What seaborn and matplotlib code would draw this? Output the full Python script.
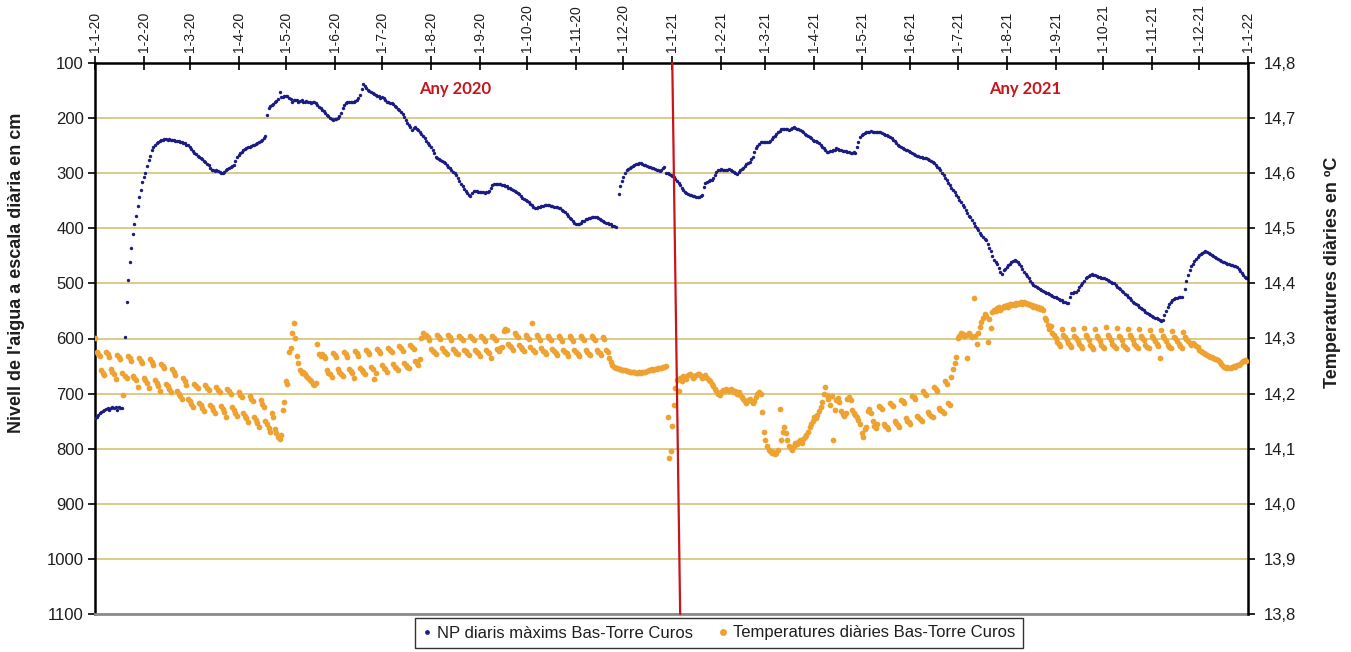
import numpy as np
import pandas as pd
import matplotlib
matplotlib.use("Agg")
import matplotlib.pyplot as plt
from matplotlib.lines import Line2D
import seaborn as sns

sns.set_theme(style="white")
plt.rcParams["font.family"] = ["Liberation Sans", "DejaVu Sans"]

# Daily maximum piezometric level (cm below reference), one value per day
level_2020 = [
    # Jan
    745, 742, 738, 735, 733, 731, 729, 728, 727, 730, 726, 724, 727, 725, 729, 724, 727, 726, None,
    597, 534, 494, 461, 435, 411, 392, 377, 360, 343, 330, 316,
    # Feb
    306, 299, 287, 276, 269, 257, 252, 249, 246, 243, 241, 240, 239, 238, 238, 239, 238, 239, 240, 240,
    241, 241, 242, 243, 244, 245, 246, 248, 249,
    # Mar
    253, 256, 260, 263, 265, 268, 271, 273, 275, 278, 280, 283, 286, 290, 294, 295, 296, 295, 296, 298,
    299, 300, 297, 294, 293, 291, 289, 287, 285, 278, 270,
    # Apr
    267, 264, 261, 258, 256, 254, 253, 252, 251, 249, 248, 247, 246, 244, 242, 240, 236, 232, 194, 182,
    178, 176, 174, 171, 169, 166, 153, 162, 161, 160,
    # May
    159, 160, 163, 166, 170, 168, 167, 168, 170, 169, 168, 170, 171, 169, 170, 170, 172, 171, 170, 172,
    176, 179, 182, 185, 188, 191, 194, 197, 200, 201, 203,
    # Jun
    202, 202, 200, 197, 190, 182, 176, 172, 170, 171, 170, 171, 170, 169, 168, 163, 158, 148, 138, 142,
    146, 149, 151, 153, 155, 157, 158, 159, 160, 163,
    # Jul
    161, 164, 167, 170, 171, 172, 173, 175, 178, 180, 183, 185, 189, 193, 198, 203, 208, 212, 217, 222,
    218, 216, 219, 222, 225, 229, 233, 237, 241, 245, 249,
    # Aug
    253, 258, 264, 270, 272, 274, 276, 278, 279, 282, 285, 288, 291, 294, 297, 300, 303, 308, 314, 319,
    324, 328, 332, 336, 340, 341, 336, 333, 332, 333, 334,
    # Sep
    334, 335, 335, 336, 335, 334, 333, 327, 321, 320, 319, 319, 320, 320, 321, 322, 323, 324, 326, 327,
    329, 331, 332, 334, 336, 338, 341, 345, 347, 349,
    # Oct
    351, 352, 355, 358, 362, 364, 363, 362, 361, 360, 359, 358, 358, 357, 358, 359, 360, 361, 361, 362,
    363, 364, 366, 368, 371, 374, 378, 381, 384, 387, 390,
    # Nov
    392, 393, 392, 390, 387, 386, 384, 383, 382, 381, 380, 379, 379, 380, 382, 384, 385, 387, 389, 390,
    391, 392, 393, 395, 396, 397, None, 337, 324, 315,
    # Dec
    306, 300, 294, 292, 290, 288, 287, 285, 284, 283, 282, 282, 283, 285, 286, 287, 288, 289, 290, 291,
    292, 294, 295, 296, 294, 291, 288, 299, 300, 302, 304,
]

level_2021 = [
    # Jan
    305, 306, 310, 314, 318, 321, 326, 330, 334, 336, 337, 339, 340, 341, 342, 343, 344, 343, 341, 340,
    325, 318, 316, 314, 313, 312, 308, 303, 298, 294, 294,
    # Feb
    293, 294, 294, 295, 294, 293, 294, 296, 298, 300, 301, 298, 295, 293, 290, 287, 284, 282, 279, 274,
    270, 262, 255, 251, 247, 243, 243, 243,
    # Mar
    244, 243, 243, 241, 238, 234, 232, 228, 226, 223, 220, 220, 219, 220, 220, 221, 219, 218, 217, 218,
    219, 220, 222, 224, 226, 228, 230, 232, 234, 237, 239,
    # Apr
    241, 242, 243, 246, 249, 253, 255, 258, 261, 261, 260, 259, 258, 257, 255, 256, 257, 258, 259, 259,
    260, 261, 262, 263, 263, 262, 263, 253, 243, 234,
    # May
    231, 229, 227, 226, 226, 225, 224, 225, 225, 226, 225, 226, 226, 227, 228, 230, 231, 233, 235, 237,
    239, 242, 245, 248, 251, 253, 254, 256, 257, 258, 260,
    # Jun
    262, 264, 266, 267, 268, 269, 270, 271, 272, 272, 273, 274, 276, 278, 280, 282, 285, 288, 291, 295,
    299, 303, 308, 313, 318, 322, 326, 330, 334, 339,
    # Jul
    344, 349, 353, 357, 361, 367, 373, 378, 379, 385, 391, 396, 400, 403, 408, 412, 416, 419, 421, 428,
    435, 442, 450, 458, 461, 464, 472, 480, 483, 476, 474,
    # Aug
    470, 467, 465, 462, 459, 458, 459, 461, 464, 468, 474, 479, 483, 487, 491, 495, 499, 503, 505, 507,
    509, 511, 512, 514, 515, 517, 518, 519, 521, 522, 524,
    # Sep
    525, 526, 528, 530, 531, 533, 534, 536, 536, 525, 518, 517, 516, 515, 512, 507, 503, 499, 495, 491,
    488, 486, 484, 483, 484, 485, 486, 488, 489, 490,
    # Oct
    490, 491, 492, 493, 495, 497, 499, 500, 503, 506, 509, 511, 514, 516, 519, 521, 524, 527, 530, 533,
    535, 537, 540, 542, 544, 546, 548, 551, 553, 555, 558,
    # Nov
    560, 561, 562, 563, 564, 566, 569, 566, 557, 550, 542, 537, 533, 530, 528, 527, 526, 525, 524, 524,
    None, 510, 496, 484, 476, 469, 464, 460, 456, 452,
    # Dec
    448, 446, 444, 443, 442, 443, 445, 447, 449, 451, 452, 454, 455, 457, 460, 461, 462, 463, 464, 465,
    466, 467, 468, 469, 470, 474, 478, 482, 485, 488, 491,
]

# Daily water temperature (ºC)
temp_2020 = [
    14.300, 14.276, 14.272, 14.268, 14.243, 14.238, 14.234,
    14.275, 14.271, 14.267, 14.244, 14.240, 14.236, 14.226,
    14.270, 14.266, 14.262, 14.238, 14.197, 14.232, 14.228,
    14.268, 14.265, 14.260, 14.232, 14.228, 14.224, 14.212,
    14.264, 14.260, 14.256, 14.228, 14.224, 14.220, 14.210,
    14.262, 14.257, 14.252, 14.224, 14.219, 14.214, 14.205,
    14.254, 14.250, 14.246, 14.218, 14.213, 14.208, 14.203,
    14.245, 14.240, 14.234, 14.205, 14.200, 14.195, 14.190,
    14.228, 14.222, 14.216, 14.190, 14.186, 14.181, 14.176,
    14.218, 14.214, 14.210, 14.183, 14.179, 14.174, 14.168,
    14.215, 14.210, 14.206, 14.180, 14.176, 14.171, 14.164,
    14.212, 14.207, 14.203, 14.178, 14.172, 14.166, 14.158,
    14.208, 14.204, 14.200, 14.175, 14.170, 14.165, 14.160,
    14.202, 14.198, 14.193, 14.165, 14.160, 14.155, 14.148,
    14.196, 14.191, 14.186, 14.158, 14.152, 14.146, 14.140,
    14.188, 14.182, 14.176, 14.150, 14.144, 14.138, 14.130,
    14.165, 14.158, 14.135, 14.128, 14.122, 14.118, 14.125,
    14.170, 14.185, 14.222, 14.218, 14.275, 14.283, 14.310, 14.328, 14.300, 14.268,
    14.255, 14.243, 14.238, 14.240, 14.235, 14.232, 14.228, 14.225, 14.222, 14.218,
    14.216, 14.220, 14.290, 14.272, 14.268,
    14.272, 14.268, 14.264, 14.242, 14.238, 14.235, 14.231,
    14.274, 14.270, 14.266, 14.244, 14.240, 14.236, 14.232,
    14.275, 14.271, 14.267, 14.245, 14.241, 14.237, 14.228,
    14.277, 14.273, 14.269, 14.247, 14.243, 14.239, 14.236,
    14.279, 14.275, 14.271, 14.249, 14.245, 14.226, 14.238,
    14.281, 14.277, 14.273, 14.251, 14.247, 14.244, 14.240,
    14.283, 14.279, 14.275, 14.253, 14.249, 14.246, 14.243,
    14.286, 14.282, 14.278, 14.256, 14.252, 14.249, 14.246,
    14.289, 14.285, 14.281, 14.259, 14.255, 14.252, 14.262,
    14.300, 14.310, 14.305,
    14.306, 14.302, 14.298, 14.281, 14.278, 14.275, 14.272,
    14.307, 14.303, 14.299, 14.282, 14.278, 14.275, 14.271,
    14.306, 14.302, 14.298, 14.281, 14.277, 14.274, 14.271,
    14.305, 14.301, 14.297, 14.280, 14.277, 14.274, 14.270,
    14.305, 14.301, 14.297, 14.280, 14.276, 14.273, 14.269,
    14.304, 14.300, 14.296, 14.279, 14.276, 14.273, 14.264,
    14.305, 14.301, 14.297, 14.281, 14.278, 14.282, 14.285,
    14.313, 14.318, 14.315, 14.290, 14.287, 14.284, 14.280,
    14.310, 14.306, 14.302, 14.288, 14.284, 14.281, 14.278,
    14.307, 14.303, 14.299, 14.284, 14.328, 14.280, 14.276,
    14.306, 14.302, 14.298, 14.282, 14.278, 14.275, 14.271,
    14.305, 14.301, 14.297, 14.281, 14.277, 14.274, 14.270,
    14.304, 14.300, 14.296, 14.280, 14.276, 14.273, 14.269,
    14.304, 14.300, 14.296, 14.279, 14.275, 14.272, 14.268,
    14.305, 14.301, 14.297, 14.279, 14.275, 14.272, 14.270,
    14.305, 14.301, 14.297, 14.280, 14.276, 14.273, 14.270,
    14.303, 14.299, 14.280, 14.276,
    14.264, 14.258, 14.252, 14.249, 14.247,
    14.246, 14.245, 14.244, 14.243, 14.243, 14.242, 14.241, 14.241, 14.240, 14.240,
    14.239, 14.239, 14.238, 14.238, 14.239, 14.238, 14.239, 14.240, 14.240,
    14.241, 14.243, 14.242, 14.244, 14.243, 14.245, 14.244, 14.246, 14.247, 14.246,
    14.248, 14.249, 14.250,
    14.158, 14.083, 14.095,
]

temp_2021 = [
    14.141, 14.179, 14.210, 14.225,
    14.205, 14.228, 14.222, 14.232, 14.230, 14.226, 14.234, 14.236, 14.233, 14.229, 14.231,
    14.234, 14.236, 14.235, 14.232, 14.229, 14.230, 14.233, 14.228, 14.225, 14.222, 14.218, 14.213, 14.208,
    14.205, 14.200, 14.198, 14.203, 14.207, 14.205, 14.208, 14.206, 14.204, 14.209, 14.207,
    14.203, 14.205, 14.200, 14.202, 14.198, 14.194, 14.190, 14.186, 14.183, 14.188,
    14.190, 14.186, 14.183, 14.186, 14.193, 14.200, 14.203, 14.199,
    14.167,
    14.130, 14.115, 14.105, 14.098, 14.095, 14.092, 14.094, 14.090, 14.093, 14.097,
    14.172,
    14.115, 14.130, 14.140, 14.128, 14.115, 14.105,
    14.102, 14.098, 14.105, 14.110, 14.108, 14.112, 14.115, 14.110, 14.118, 14.122, 14.125, 14.130,
    14.140, 14.145, 14.150, 14.158, 14.155, 14.162, 14.168, 14.175,
    14.185, 14.200, 14.212, 14.198, 14.190, 14.180, 14.195,
    14.116,
    14.170, 14.188, 14.192, 14.185, 14.168, 14.163, 14.160, 14.165, 14.190, 14.193, 14.188, 14.170,
    14.165, 14.162, 14.158,
    14.152, 14.145, 14.128, 14.122, 14.135, 14.140, 14.168, 14.172, 14.165, 14.150, 14.142, 14.138,
    14.145,
    14.178, 14.175, 14.172, 14.145, 14.142, 14.139, 14.136,
    14.183, 14.180, 14.177, 14.150, 14.146, 14.143, 14.140,
    14.189, 14.186, 14.183, 14.155, 14.151, 14.148, 14.145,
    14.196, 14.193, 14.190, 14.160, 14.157, 14.154, 14.150,
    14.204, 14.200, 14.197, 14.166, 14.163, 14.160, 14.157,
    14.212, 14.208, 14.205, 14.174, 14.171, 14.168, 14.165,
    14.222, 14.218, 14.183, 14.180,
    14.230, 14.245, 14.255, 14.266, 14.300,
    14.305, 14.310, 14.308, 14.304, 14.306, 14.264, 14.310, 14.306,
    14.303, 14.373, 14.305, 14.290, 14.310, 14.320, 14.330, 14.338, 14.345, 14.340, 14.294, 14.335, 14.319,
    14.348, 14.352, 14.350, 14.355, 14.358, 14.352, 14.356, 14.359, 14.357, 14.361, 14.358,
    14.362, 14.360, 14.363, 14.361, 14.364, 14.362, 14.365, 14.366, 14.363, 14.366, 14.364,
    14.362, 14.363, 14.360, 14.361, 14.358, 14.359, 14.356, 14.357, 14.354, 14.355, 14.352,
    14.338, 14.334, 14.325, 14.318,
    14.322, 14.310, 14.306, 14.300, 14.294, 14.290, 14.287,
    14.318, 14.306, 14.302, 14.297, 14.291, 14.288, 14.284,
    14.317, 14.305, 14.301, 14.296, 14.290, 14.286, 14.283,
    14.319, 14.306, 14.302, 14.297, 14.289, 14.285, 14.281,
    14.318, 14.305, 14.301, 14.296, 14.289, 14.285, 14.282,
    14.320, 14.306, 14.303, 14.298, 14.290, 14.286, 14.283,
    14.319, 14.305, 14.302, 14.297, 14.289, 14.284, 14.281,
    14.318, 14.306, 14.302, 14.298, 14.290, 14.286, 14.282,
    14.317, 14.305, 14.301, 14.297, 14.289, 14.285, 14.282,
    14.316, 14.304, 14.300, 14.296, 14.290, 14.286, 14.264,
    14.315, 14.304, 14.300, 14.296, 14.289, 14.285, 14.282,
    14.314, 14.303, 14.300, 14.295, 14.290, 14.286, 14.283,
    14.312, 14.302, 14.299, 14.295, 14.291, 14.288, 14.292,
    14.290, 14.287, 14.284, 14.280, 14.277, 14.275, 14.273, 14.271, 14.270, 14.268,
    14.267, 14.266, 14.265, 14.263, 14.262, 14.261, 14.258, 14.254, 14.250, 14.248,
    14.247, 14.248, 14.246, 14.247, 14.249, 14.250, 14.249, 14.251, 14.252, 14.254,
    14.257, 14.260, 14.261, 14.260,
]

month_ticks = pd.date_range("2020-01-01", "2022-01-01", freq="MS")
month_labels = [
    "1-1-20", "1-2-20", "1-3-20", "1-4-20", "1-5-20", "1-6-20", "1-7-20", "1-8-20", "1-9-20",
    "1-10-20", "1-11-20", "1-12-20", "1-1-21", "1-2-21", "1-3-21", "1-4-21", "1-5-21", "1-6-21",
    "1-7-21", "1-8-21", "1-9-21", "1-10-21", "1-11-21", "1-12-21", "1-1-22",
]
level_ticks = [100, 200, 300, 400, 500, 600, 700, 800, 900, 1000, 1100]
temp_ticks = [13.8, 13.9, 14.0, 14.1, 14.2, 14.3, 14.4, 14.5, 14.6, 14.7, 14.8]
temp_labels = ["13,8", "13,9", "14,0", "14,1", "14,2", "14,3", "14,4", "14,5", "14,6", "14,7", "14,8"]

level_name = "NP diaris màxims Bas-Torre Curos"
temp_name = "Temperatures diàries Bas-Torre Curos"

BLUE = "#1b1b84"
ORANGE = "#eea232"
GOLD = "#d2bd68"
RED = "#c8141b"
TEXT = "#1e1e1e"

start = pd.Timestamp("2020-01-01")
level_vals = level_2020 + level_2021
temp_vals = temp_2020 + temp_2021
df_level = pd.DataFrame({
    "data": pd.date_range(start, periods=len(level_vals), freq="D"),
    "nivell": pd.to_numeric(pd.Series(level_vals, dtype="object"), errors="coerce"),
}).dropna()
df_temp = pd.DataFrame({
    "data": pd.date_range(start, periods=len(temp_vals), freq="D"),
    "temp": temp_vals,
})

W, H = 1351, 652
fig = plt.figure(figsize=(W / 100, H / 100), dpi=100)
fig.patch.set_facecolor("white")
ax = fig.add_axes([95 / W, 38 / H, 1153 / W, 551 / H])
ax2 = ax.twinx()

sns.scatterplot(data=df_level, x="data", y="nivell", ax=ax, color=BLUE, s=6,
                linewidth=0, legend=False, zorder=3)
sns.scatterplot(data=df_temp, x="data", y="temp", ax=ax2, color=ORANGE, s=17,
                linewidth=0, legend=False, zorder=3)

# Separation between the two years
ax2.plot([pd.Timestamp("2021-01-01"), pd.Timestamp("2021-01-06")], [14.8, 13.8],
         color=RED, lw=1.6, zorder=5, clip_on=False)

# Left axis: level (inverted)
ax.set_xlim(start, pd.Timestamp("2022-01-01"))
ax.set_ylim(1100, 100)
ax.set_yticks(level_ticks)
ax.set_yticklabels([str(v) for v in level_ticks], fontsize=12, color=TEXT)
ax.tick_params(axis="y", which="major", left=True, direction="out", length=5,
               width=1.2, color="black", pad=3)
ax.yaxis.grid(True, color=GOLD, lw=1.1)
ax.xaxis.grid(False)
ax.set_axisbelow(True)

# Top date axis
ax.xaxis.tick_top()
ax.set_xticks(month_ticks)
ax.set_xticklabels(month_labels, rotation=90, fontsize=10, color=TEXT)
ax.tick_params(axis="x", which="major", top=True, bottom=False, labeltop=True,
               labelbottom=False, direction="inout", length=10, width=1.2,
               color="black", pad=3)
ax.set_xlabel("")

# Right axis: temperature
ax2.set_ylim(13.8, 14.8)
ax2.set_yticks(temp_ticks)
ax2.set_yticklabels(temp_labels, fontsize=12, color=TEXT)
ax2.tick_params(axis="y", which="major", right=True, direction="out", length=5,
                width=1.2, color="black", pad=6)
ax2.grid(False)

ax.set_ylabel("Nivell de l'aigua a escala diària en cm", fontsize=13,
              fontweight="bold", color=TEXT)
ax.yaxis.set_label_coords(-0.061, 0.62)
ax2.set_ylabel("Temperatures diàries en ºC", fontsize=13, fontweight="bold",
               color=TEXT, rotation=90)
ax2.yaxis.set_label_coords(1.066, 0.62)

for side in ["left", "top"]:
    ax.spines[side].set_color("black")
    ax.spines[side].set_linewidth(1.8)
ax.spines["bottom"].set_color("#8c8c8c")
ax.spines["bottom"].set_linewidth(2.0)
ax.spines["right"].set_visible(False)
for side in ["left", "top", "bottom"]:
    ax2.spines[side].set_visible(False)
ax2.spines["right"].set_color("black")
ax2.spines["right"].set_linewidth(1.8)

ax.text(0.312, 0.953, "Any 2020", transform=ax.transAxes, ha="center", va="center",
        color=RED, fontsize=12, fontweight="bold", family="Lato")
ax.text(0.807, 0.953, "Any 2021", transform=ax.transAxes, ha="center", va="center",
        color=RED, fontsize=12, fontweight="bold", family="Lato")

handles = [
    Line2D([], [], ls="none", marker="o", ms=2.4, color=BLUE, label=level_name),
    Line2D([], [], ls="none", marker="o", ms=4, color=ORANGE, label=temp_name),
]
leg = fig.legend(handles=handles, loc="center", bbox_to_anchor=(719 / W, 1 - 633 / H),
                 ncol=2, frameon=True, fancybox=False, edgecolor="black",
                 fontsize=12, handlelength=0.5, handletextpad=0.4,
                 columnspacing=1.5, borderpad=0.45)
leg.get_frame().set_linewidth(1.0)
for t in leg.get_texts():
    t.set_color(TEXT)

fig.savefig("out.png", dpi=100, facecolor="white")
